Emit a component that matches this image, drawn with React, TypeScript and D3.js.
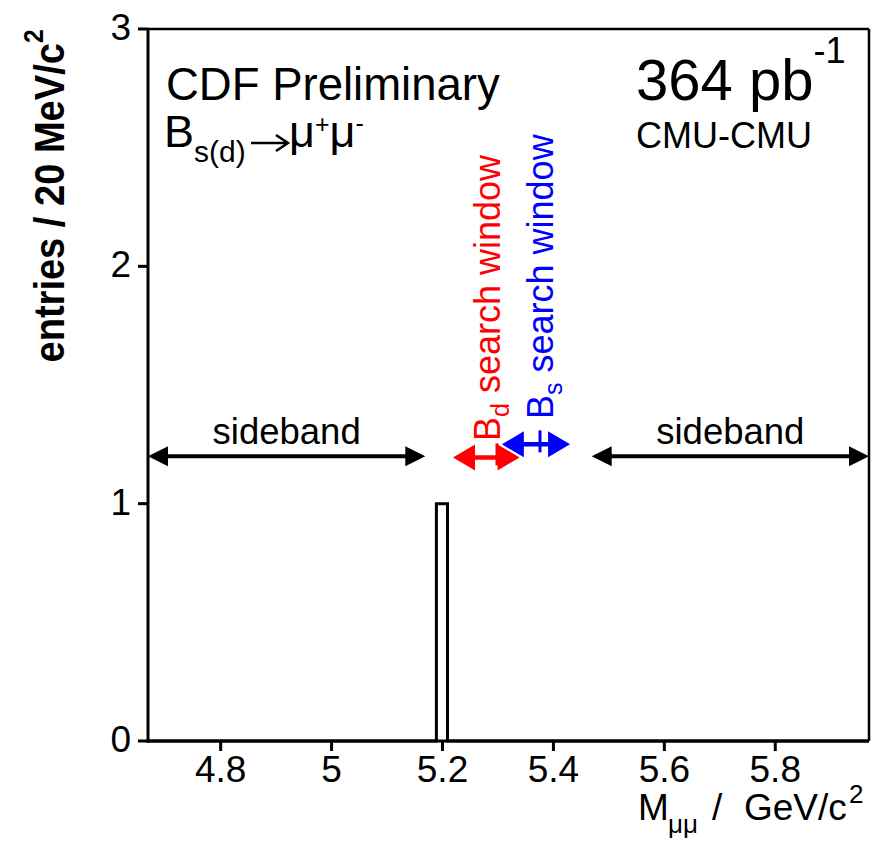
import React from "react";
import * as d3 from "d3";

// ---- data ----
const xDomain = [4.669, 5.969];
const yDomain = [0, 3];
const binWidth = 0.02;
const eventMasses = [5.199];
const xTicks = [4.8, 5.0, 5.2, 5.4, 5.6, 5.8];
const xTickLabels = ["4.8", "5", "5.2", "5.4", "5.6", "5.8"];
const yTicks = [0, 1, 2, 3];
const sidebands = [
  { lo: 4.669, hi: 5.169, y: 1.2 },
  { lo: 5.469, hi: 5.969, y: 1.2 },
];
const windows = [
  { name: "d", lo: 5.219, hi: 5.339, y: 1.195, color: "#ff0000" },
  { name: "s", lo: 5.307, hi: 5.43, y: 1.25, color: "#0000ff" },
];

const W = 881;
const H = 842;
const FONT = "'Liberation Sans', Arial, Helvetica, sans-serif";

const arrowPath = (x1: number, x2: number, y: number, len: number, hw: number) =>
  `M${x1},${y}L${x1 + len},${y - hw}L${x1 + len},${y + hw}Z M${x2},${y}L${x2 - len},${y - hw}L${x2 - len},${y + hw}Z`;

export default function App() {
  const x = d3.scaleLinear().domain(xDomain).range([148, 869]);
  const y = d3.scaleLinear().domain(yDomain).range([741, 29]);

  const nBins = Math.round((xDomain[1] - xDomain[0]) / binWidth);
  const thresholds = d3.range(nBins + 1).map((i) => xDomain[0] + i * binWidth);
  const bins = d3
    .bin<number, number>()
    .domain([xDomain[0], xDomain[1]])
    .thresholds(thresholds)(eventMasses);

  let hpath = `M${x(xDomain[0])},${y(0)}`;
  bins.forEach((b) => {
    hpath += `L${x(b.x0!)},${y(b.length)}L${x(b.x1!)},${y(b.length)}`;
  });
  hpath += `L${x(xDomain[1])},${y(0)}`;

  return (
    <svg
      width={W}
      height={H}
      style={{ position: "absolute", left: 0, top: 0, background: "#fff" }}
      fontFamily={FONT}
    >
      <rect width={W} height={H} fill="#fff" />
      {/* histogram */}
      <path d={hpath} fill="#fff" stroke="#000" strokeWidth={3} />
      {/* frame */}
      <line x1={148} x2={869} y1={29} y2={29} stroke="#000" strokeWidth={2.5} />
      <line x1={869} x2={869} y1={29} y2={741} stroke="#000" strokeWidth={2.5} />
      <line x1={148} x2={148} y1={28} y2={742.5} stroke="#000" strokeWidth={3} />
      <line x1={146.5} x2={869} y1={741} y2={741} stroke="#000" strokeWidth={3} />
      {/* x ticks */}
      {xTicks.map((t, i) => (
        <g key={"xt" + i}>
          <line x1={x(t)} x2={x(t)} y1={741} y2={751} stroke="#000" strokeWidth={3} />
          <text x={x(t)} y={782} fontSize={37} textAnchor="middle">
            {xTickLabels[i]}
          </text>
        </g>
      ))}
      {/* y ticks */}
      {yTicks.map((t) => (
        <g key={"yt" + t}>
          <line x1={138} x2={148} y1={y(t)} y2={y(t)} stroke="#000" strokeWidth={3} />
          <text x={131} y={y(t) + 11} fontSize={37} textAnchor="end">
            {t}
          </text>
        </g>
      ))}
      {/* y axis title */}
      <text
        transform="translate(64,196) rotate(-90)"
        fontSize={42}
        fontWeight="bold"
        textAnchor="middle"
        textLength={333}
        lengthAdjust="spacingAndGlyphs"
      >
        entries / 20 MeV/c
        <tspan fontSize={27} dy={-21}>2</tspan>
      </text>
      {/* x axis title */}
      <text y={820} fontSize={37}>
        <tspan x={638}>M</tspan>
        <tspan x={668} fontSize={26} dy={13}>μμ</tspan>
        <tspan x={712} dy={-13}>/</tspan>
        <tspan x={744}>GeV/c</tspan>
        <tspan x={849} fontSize={26} dy={-17}>2</tspan>
      </text>
      {/* CDF labels */}
      <text x={166} y={100} fontSize={45.5}>
        CDF Preliminary
      </text>
      <text x={164} y={147} fontSize={45}>
        B
        <tspan fontSize={30} dy={15}>s(d)</tspan>
      </text>
      <path d="M251,143L287,143M276,135L288,143L276,151" fill="none" stroke="#000" strokeWidth={2.5} />
      <text y={147} fontSize={45}>
        <tspan x={289}>μ</tspan>
        <tspan fontSize={25} dy={-14}>+</tspan>
        <tspan dy={14}>μ</tspan>
        <tspan fontSize={25} dy={-15}>-</tspan>
      </text>
      <text x={636} y={100} fontSize={58}>
        364 pb
        <tspan fontSize={36} dy={-37}>-1</tspan>
      </text>
      <text x={636} y={148} fontSize={36}>
        CMU-CMU
      </text>
      {/* sidebands */}
      {sidebands.map((s, i) => {
        const x1 = x(s.lo);
        const x2 = x(s.hi);
        const yy = y(s.y);
        return (
          <g key={"sb" + i}>
            <line x1={x1 + 10} x2={x2 - 10} y1={yy} y2={yy} stroke="#000" strokeWidth={4} />
            <path d={arrowPath(x1, x2, yy, 20, 10)} fill="#000" />
            <text x={(x1 + x2) / 2} y={yy - 12} fontSize={36.5} textAnchor="middle">
              sideband
            </text>
          </g>
        );
      })}
      {/* search windows */}
      {windows.map((w, i) => {
        const x1 = x(w.lo);
        const x2 = x(w.hi);
        const yy = y(w.y);
        const tx = i === 0 ? 500 : 553;
        const ty = i === 0 ? 441 : 419;
        const bx = i === 0 ? 497 : 540;
        return (
          <g key={"w" + i}>
            <line x1={x1 + 10} x2={x2 - 10} y1={yy} y2={yy} stroke={w.color} strokeWidth={4.5} />
            <path d={arrowPath(x1, x2, yy, 22, 13)} fill={w.color} />
            <line x1={bx} x2={bx} y1={yy - 14} y2={yy + 8} stroke={w.color} strokeWidth={3} />
            <text transform={`translate(${tx},${ty}) rotate(-90)`} fontSize={36} fill={w.color}>
              B
              <tspan fontSize={25} dy={9}>{w.name}</tspan>
              <tspan dy={-9}> search window</tspan>
            </text>
          </g>
        );
      })}
    </svg>
  );
}
